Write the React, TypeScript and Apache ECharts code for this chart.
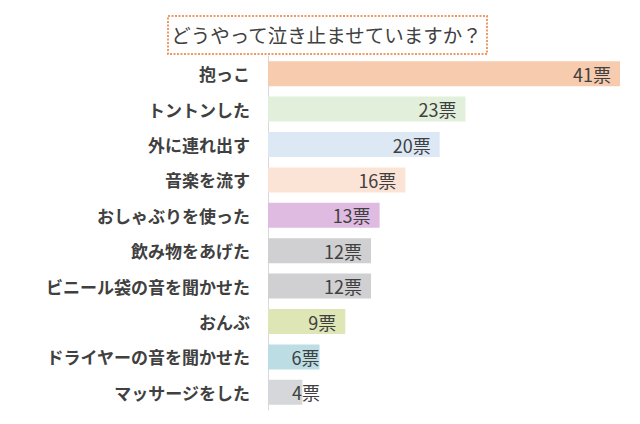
import React, { useEffect, useRef } from "react";
import * as echarts from "echarts";

const titleText = "どうやって泣き止ませていますか？";
const categories = [
  "抱っこ",
  "トントンした",
  "外に連れ出す",
  "音楽を流す",
  "おしゃぶりを使った",
  "飲み物をあげた",
  "ビニール袋の音を聞かせた",
  "おんぶ",
  "ドライヤーの音を聞かせた",
  "マッサージをした",
];
const votes = [41, 23, 20, 16, 13, 12, 12, 9, 6, 4];
const barColors = [
  "#f7cbae",
  "#e2efda",
  "#dde8f5",
  "#fbe3d6",
  "#dfbae1",
  "#d0cfd1",
  "#d0cfd1",
  "#dee6b6",
  "#bcdde3",
  "#d5d7da",
];

const FONT = "'Noto Sans CJK JP', 'Noto Sans', sans-serif";

export default function App() {
  const ref = useRef<HTMLDivElement>(null);
  useEffect(() => {
    if (!ref.current) return;
    const chart = echarts.init(ref.current, undefined, { renderer: "svg" });
    chart.setOption({
      animation: false,
      backgroundColor: "#ffffff",
      graphic: [
        {
          type: "rect",
          left: 159,
          top: 7,
          shape: { width: 319, height: 38 },
          style: {
            fill: "#ffffff",
            stroke: "#ee9a62",
            lineWidth: 2,
            lineDash: [2, 1.5],
          },
          z: 10,
        },
        {
          type: "text",
          x: 318.5,
          y: 26,
          style: {
            text: titleText,
            fill: "#404040",
            font: `19.5px ${FONT}`,
            align: "center",
            verticalAlign: "middle",
          },
          z: 11,
        },
      ],
      grid: { left: 260, top: 48, width: 352, height: 354, containLabel: false },
      xAxis: {
        type: "value",
        min: 0,
        max: 41,
        show: false,
      },
      yAxis: {
        type: "category",
        inverse: true,
        data: categories,
        axisLine: { show: true, lineStyle: { color: "#d9d9d9", width: 1 } },
        axisTick: { show: false },
        axisLabel: {
          margin: 18,
          fontSize: 17,
          fontWeight: "bold",
          color: "#404040",
          fontFamily: FONT,
        },
      },
      series: [
        {
          type: "bar",
          barWidth: 25,
          data: votes.map((v, i) => ({
            value: v,
            itemStyle: { color: barColors[i] },
            label:
              v < 6
                ? { position: "insideLeft", distance: 24 }
                : v < 8
                ? { position: "insideRight", distance: 0 }
                : undefined,
          })),
          label: {
            show: true,
            position: "insideRight",
            distance: 9,
            formatter: "{c}票",
            fontSize: 18,
            color: "#404040",
            fontFamily: FONT,
          },
        },
      ],
    });
    return () => chart.dispose();
  }, []);
  return <div ref={ref} style={{ width: 624, height: 408 }} />;
}
